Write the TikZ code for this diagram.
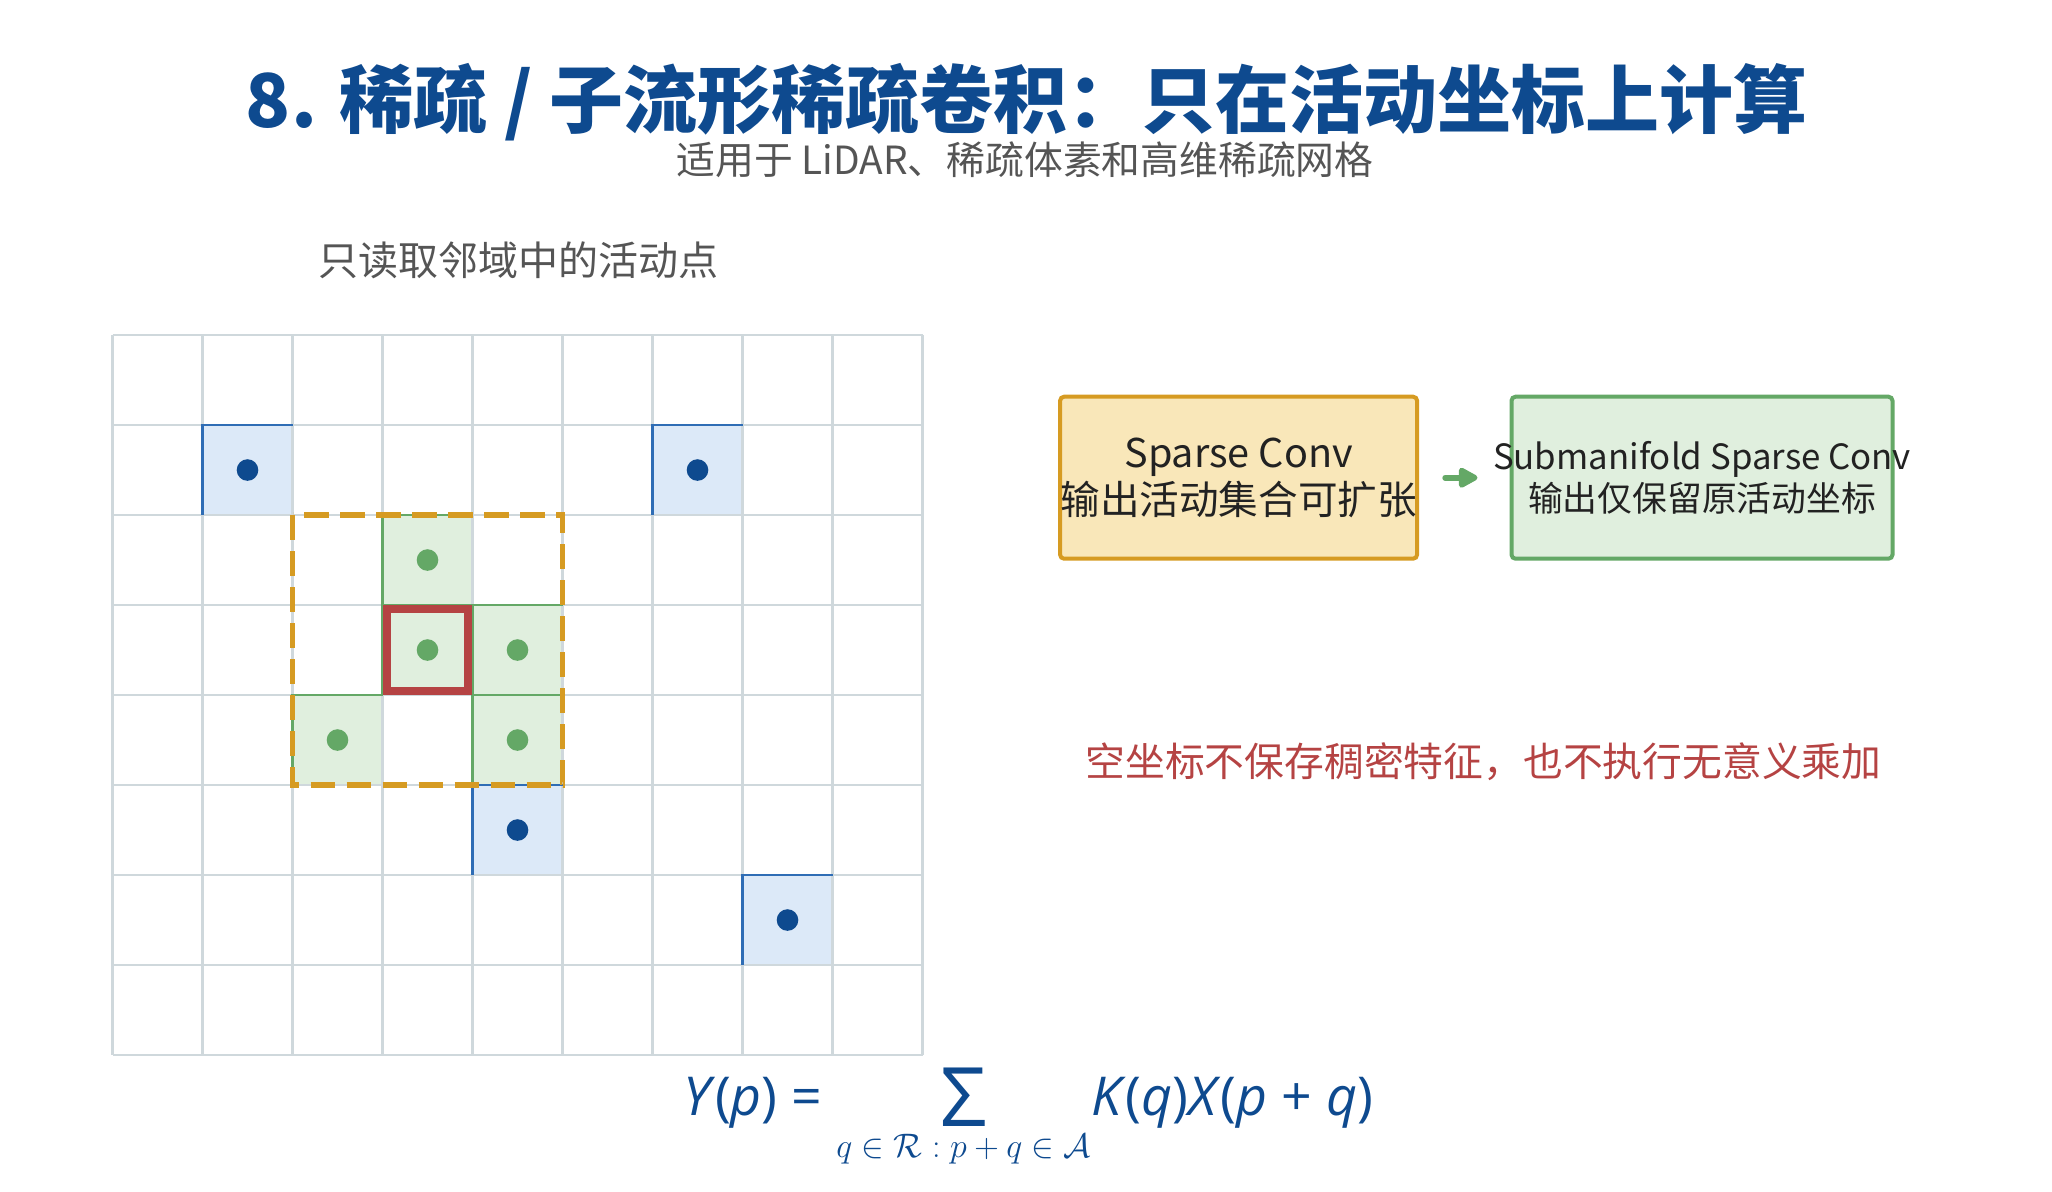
\documentclass[tikz,border=0pt]{standalone}
\usepackage{fix-cm}
\usepackage{xcolor}
\definecolor{TitleBlue}{HTML}{0E4A8F}
\definecolor{GridGray}{HTML}{CFD8DC}
\definecolor{CellBlue}{HTML}{DCE9F8}
\definecolor{EdgeBlue}{HTML}{2F6DB5}
\definecolor{CellGreen}{HTML}{E0EFDE}
\definecolor{LeafGreen}{HTML}{64A866}
\definecolor{Amber}{HTML}{D69B22}
\definecolor{Sand}{HTML}{F9E7B9}
\definecolor{BrickRed}{HTML}{B54343}
\definecolor{InkGray}{HTML}{555555}
\definecolor{InkDark}{HTML}{222222}
\usepackage{amsmath}
\usepackage{fontspec}
\setmainfont{Noto Sans CJK SC}
\newfontfamily\formulafont{Open Sans}
\usepackage{tikz}
\usetikzlibrary{arrows.meta, positioning}

\begin{document}
\begin{tikzpicture}[x=0.5pt, y=-0.5pt,
  gridline/.style={GridGray, line width=1.35pt},
  convbox/.style={line width=2pt, rounded corners=2pt, minimum height=81pt, inner sep=0},
  boxtext/.style={text=InkDark, align=center, inner sep=0},
  flowarrow/.style={LeafGreen, line width=2.8pt, line cap=round, -{Triangle[length=11pt,width=11pt,round]}}]
  \useasboundingbox (0,0) rectangle (2052,1191);

  \node[font=\fontsize{37}{44}\selectfont\bfseries, text=TitleBlue] (title) at (1027,102) {8. 稀疏 / 子流形稀疏卷积：只在活动坐标上计算};
  \node[font=\fontsize{19.4}{23}\selectfont, text=InkGray] (subtitle) at (1025,160) {适用于 LiDAR、稀疏体素和高维稀疏网格};
  \node[font=\fontsize{20}{24}\selectfont, text=InkGray] (nbrlabel) at (518,260) {只读取邻域中的活动点};

  % sparse grid, 9 x 8 cells
  \begin{scope}[shift={(112.5,335)}, x=45pt, y=-45pt]
    \foreach \c/\r in {1/1,6/1,4/5,7/6} \fill[CellBlue] (\c,\r) rectangle ++(1,1);
    \foreach \c/\r in {3/2,3/3,4/3,2/4,4/4} \fill[CellGreen] (\c,\r) rectangle ++(1,1);
    \foreach \i in {0,...,9} \draw[gridline] (\i,0) -- (\i,8);
    \foreach \j in {0,...,8} \draw[gridline] (0,\j) -- (9,\j);
    \foreach \c/\r in {1/1,6/1,4/5,7/6} {
      \draw[EdgeBlue, line width=1.35pt] (\c,\r+1) -- (\c,\r) -- (\c+1,\r);
      \fill[TitleBlue] (\c+.5,\r+.5) circle (5.4pt);
    }
    \foreach \c/\r in {3/2,3/3,4/3,2/4,4/4} {
      \draw[LeafGreen, line width=1.35pt] (\c,\r+1) -- (\c,\r) -- (\c+1,\r);
      \fill[LeafGreen] (\c+.5,\r+.5) circle (5.4pt);
    }
    \draw[BrickRed, line width=4pt] (3.047,3.047) rectangle (3.953,3.953);
    \draw[Amber, line width=2.6pt, dash pattern=on 12.3pt off 5.7pt] (2,2) rectangle (5,5);
  \end{scope}

  \node[convbox, fill=Sand, draw=Amber, minimum width=178.5pt] (sparse) at (1238.6,477.7) {};
  \node[convbox, fill=CellGreen, draw=LeafGreen, minimum width=190.5pt] (subm) at (1702,477.7) {};
  \node[boxtext, font=\fontsize{19.8}{23.5}\selectfont] (sparsetxt) at (sparse) {Sparse Conv\\输出活动集合可扩张};
  \node[boxtext, font=\fontsize{17.4}{21}\selectfont] (submtxt) at (subm) {Submanifold Sparse Conv\\输出仅保留原活动坐标};
  \draw[flowarrow, shorten <=13pt, shorten >=16pt] (sparse.east) -- (subm.west);

  \node[font=\fontsize{19.9}{24}\selectfont, text=BrickRed] (note) at (1483.4,761.7) {空坐标不保存稠密特征，也不执行无意义乘加};

  \node[text=TitleBlue, font=\formulafont\fontsize{26.8}{30}\selectfont, inner sep=0, anchor=base] (formula) at (1028,1115)
    {\itshape Y\/\upshape(\itshape p\/\upshape) = $\displaystyle\mathop{\raisebox{-5.5pt}{\fontsize{41}{41}\selectfont Σ}}\limits_{\text{\fontsize{17}{20}\selectfont$q\in\mathcal{R}:p+q\in\mathcal{A}$}}$\itshape K\/\upshape(\itshape q\/\upshape)\itshape X\/\upshape(\itshape p \upshape+ \itshape q\/\upshape)};
\end{tikzpicture}
\end{document}
